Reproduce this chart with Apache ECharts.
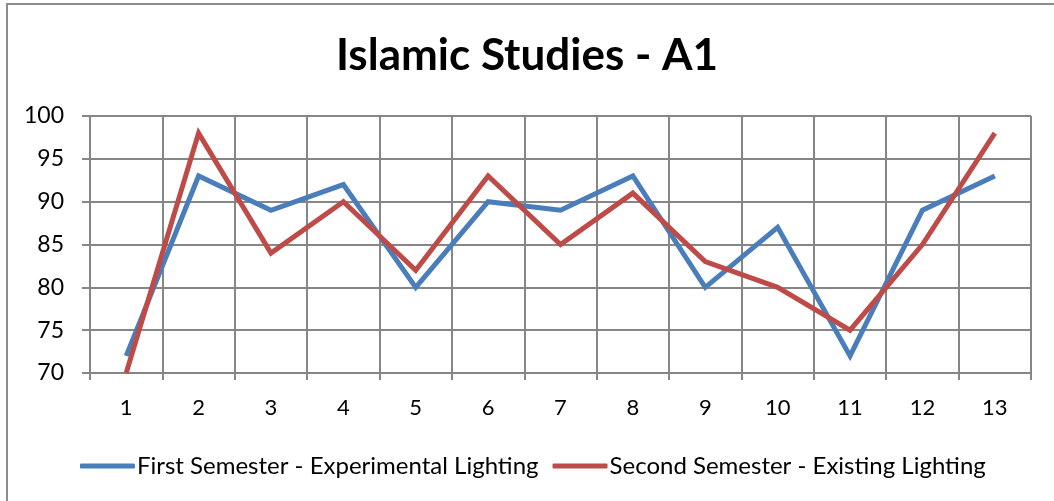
<!DOCTYPE html>
<html><head><meta charset="utf-8">
<script src="https://cdn.jsdelivr.net/npm/echarts@6/dist/echarts.min.js"></script>
<style>html,body{margin:0;padding:0;background:#fff}#c{width:1054px;height:501px}</style>
</head><body><div id="c"></div>
<script>
const categories = ['1','2','3','4','5','6','7','8','9','10','11','12','13'];
const firstSemester = [72, 93, 89, 92, 80, 90, 89, 93, 80, 87, 72, 89, 93];
const secondSemester = [70, 98, 84, 90, 82, 93, 85, 91, 83, 80, 75, 85, 98];
const seriesNames = ['First Semester - Experimental Lighting', 'Second Semester - Existing Lighting'];
const FONT = 'Lato';
const chart = echarts.init(document.getElementById('c'));
chart.setOption({
  animation: false,
  backgroundColor: '#fff',
  graphic: [{type:'rect', shape:{x:7, y:4, width:1100, height:600}, style:{fill:'none', stroke:'#8c8c8c', lineWidth:2}, silent:true}],
  title: {text:'Islamic Studies - A1', left:'center', top:29, textStyle:{fontFamily:FONT, fontSize:44, fontWeight:'bold', color:'#000'}},
  legend: {top:449, left:75, itemWidth:55, itemHeight:5, itemGap:14,
    textStyle:{fontFamily:FONT, fontSize:24, color:'#000', padding:[0,0,0,-3]},
    data: seriesNames.map(n=>({name:n, icon:'roundRect'}))},
  grid: {left:90, right:23, top:116, bottom:128, containLabel:false},
  xAxis: {type:'category', data:categories, boundaryGap:true,
    axisLine:{lineStyle:{color:'#868686', width:2}},
    axisTick:{show:true, length:7, lineStyle:{color:'#868686', width:2}},
    axisLabel:{fontFamily:FONT, fontSize:22, color:'#000', margin:24},
    splitLine:{show:true, lineStyle:{color:'#868686', width:2}}},
  yAxis: {type:'value', min:70, max:100, interval:5,
    axisLine:{show:false},
    axisTick:{show:true, length:8, lineStyle:{color:'#868686', width:2}},
    axisLabel:{fontFamily:FONT, fontSize:23, color:'#000', margin:26},
    splitLine:{show:true, lineStyle:{color:'#868686', width:2}}},
  series: [
    {name:seriesNames[0], type:'line', data:firstSemester, symbol:'none', lineStyle:{color:'#4A7EBB', width:5, join:'miter'}, itemStyle:{color:'#4A7EBB'}},
    {name:seriesNames[1], type:'line', data:secondSemester, symbol:'none', lineStyle:{color:'#BE4B48', width:5, join:'miter'}, itemStyle:{color:'#BE4B48'}}
  ]
});
</script></body></html>
